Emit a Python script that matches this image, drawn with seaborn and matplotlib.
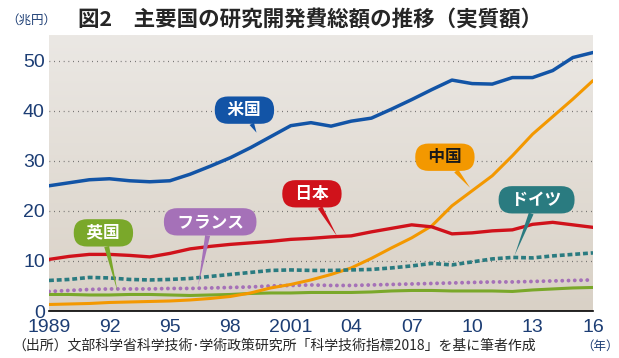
import matplotlib
matplotlib.use("Agg")
import matplotlib.pyplot as plt
import numpy as np
import pandas as pd
import seaborn as sns
from matplotlib.colors import LinearSegmentedColormap

years = list(range(1989, 2017))
usa = [25.0, 25.6, 26.2, 26.4, 26.0, 25.8, 26.0, 27.3, 28.9, 30.6, 32.6, 34.8, 37.0,
       37.6, 36.9, 37.9, 38.5, 40.3, 42.2, 44.2, 46.1, 45.4, 45.3, 46.6, 46.6, 48.0,
       50.6, 51.6]
japan = [10.3, 10.9, 11.3, 11.3, 11.1, 10.8, 11.5, 12.4, 12.9, 13.3, 13.6, 13.9, 14.3,
         14.5, 14.8, 15.0, 15.8, 16.5, 17.2, 16.8, 15.4, 15.6, 16.0, 16.2, 17.3, 17.7,
         17.2, 16.7]
china = [1.3, 1.4, 1.5, 1.7, 1.8, 1.9, 2.0, 2.2, 2.5, 2.9, 3.6, 4.6, 5.3, 6.2, 7.3,
         8.6, 10.5, 12.6, 14.6, 17.0, 21.0, 24.0, 27.0, 31.0, 35.3, 38.8, 42.3, 46.0]
germany = [6.1, 6.3, 6.7, 6.6, 6.3, 6.2, 6.3, 6.5, 6.9, 7.3, 7.7, 8.1, 8.2, 8.1, 8.1,
           8.2, 8.3, 8.6, 9.0, 9.5, 9.2, 9.8, 10.4, 10.7, 10.6, 11.0, 11.3, 11.6]
france = [3.9, 4.1, 4.3, 4.4, 4.4, 4.4, 4.5, 4.5, 4.6, 4.7, 4.8, 5.0, 5.1, 5.2, 5.1,
          5.1, 5.2, 5.3, 5.4, 5.5, 5.6, 5.7, 5.8, 5.8, 5.9, 6.0, 6.1, 6.2]
uk = [3.3, 3.3, 3.2, 3.2, 3.3, 3.3, 3.2, 3.1, 3.2, 3.3, 3.5, 3.6, 3.6, 3.7, 3.7, 3.7,
      3.8, 4.0, 4.1, 4.1, 4.0, 4.0, 4.0, 3.9, 4.2, 4.4, 4.6, 4.7]

tick_years = [1989, 1992, 1995, 1998, 2001, 2004, 2007, 2010, 2013, 2016]
tick_labels = ["1989", "92", "95", "98", "2001", "04", "07", "10", "13", "16"]

df = pd.DataFrame({"year": years, "米国": usa, "日本": japan, "中国": china,
                   "ドイツ": germany, "フランス": france, "英国": uk})

sns.set_theme(style="white")
plt.rcParams["font.family"] = ["Liberation Sans", "Noto Sans CJK JP", "DejaVu Sans"]
cjk = ["Noto Sans CJK JP", "DejaVu Sans"]

navy = "#1c3d74"
fig = plt.figure(figsize=(6.19, 3.58), dpi=100)
ax = fig.add_axes([49 / 619, 1 - 311 / 358, 544 / 619, 276 / 358])

# background gradient
grad = np.linspace(0, 1, 256).reshape(-1, 1)
cmap = LinearSegmentedColormap.from_list("bg", ["#d9d1c6", "#ebe8e4"])
ax.imshow(grad, aspect="auto", cmap=cmap, extent=(1989, 2016, 55.1, 0), zorder=0)

for v in [10, 20, 30, 40, 50]:
    ax.axhline(v, color="#555555", lw=0.9, ls=(0, (0.6, 3.2)), zorder=1)

styles = {
    "英国": dict(color="#7aa82a", lw=2.2),
    "フランス": dict(color="#a571b8", lw=2.8, ls=(0, (0.01, 1.6)), dash_capstyle="round"),
    "中国": dict(color="#f39800", lw=2.2),
    "ドイツ": dict(color="#2a7b80", lw=2.6, ls=(0, (1.35, 0.8)), dash_capstyle="butt"),
    "日本": dict(color="#d0121b", lw=2.4),
    "米国": dict(color="#1254a6", lw=2.5),
}
for name, st in styles.items():
    sns.lineplot(data=df, x="year", y=name, ax=ax, zorder=3, **st)

ax.set_xlim(1989, 2016)
ax.set_ylim(0, 55.1)
ax.set_xlabel("")
ax.set_ylabel("")
ax.set_xticks(tick_years)
ax.set_xticklabels(tick_labels)
ax.set_yticks([0, 10, 20, 30, 40, 50])
ax.tick_params(axis="x", direction="in", length=4, width=0.8, color="#888888",
               labelsize=14, labelcolor=navy, pad=6)
ax.tick_params(axis="y", length=0, labelsize=14, labelcolor=navy, pad=3)
for s in ["top", "right", "left"]:
    ax.spines[s].set_visible(False)
ax.spines["bottom"].set_color("black")
ax.spines["bottom"].set_linewidth(1.2)
ax.spines["bottom"].set_zorder(5)

# bubble labels: text position, pointer tip
bubbles = [
    ("米国", (1998.7, 40.1), (1999.3, 35.6), "#1254a6", "white"),
    ("日本", (2002.05, 23.4), (2003.3, 14.9), "#d0121b", "white"),
    ("中国", (2008.65, 30.7), (2009.9, 24.6), "#f39800", "#1a1a1a"),
    ("ドイツ", (2013.2, 22.2), (2012.1, 11.0), "#2a7b80", "white"),
    ("フランス", (1997.0, 17.8), (1996.4, 5.0), "#a571b8", "white"),
    ("英国", (1991.7, 15.6), (1992.4, 3.9), "#7aa82a", "white"),
]
for text, tpos, tip, fc, tc in bubbles:
    ax.annotate("\u2002" + text + "\u2002", xy=tip, xytext=tpos, ha="center", va="center",
                fontsize=12, fontweight="bold", color=tc, family=cjk, zorder=6,
                bbox=dict(boxstyle="round,pad=0.28,rounding_size=0.8", fc=fc, ec="none"),
                arrowprops=dict(arrowstyle="wedge,tail_width=0.3,shrink_factor=0.5",
                                fc=fc, ec="none", shrinkA=0, shrinkB=0))

fig.text(310 / 619, 1 - 19 / 358, "図2　主要国の研究開発費総額の推移（実質額）",
         ha="center", va="center", fontsize=15.5, fontweight="bold", family=cjk)
fig.text(6 / 619, 1 - 20 / 358, "（兆円）", ha="left", va="center", fontsize=9,
         color=navy, family=cjk)
fig.text(12 / 619, 1 - 346 / 358,
         "（出所）文部科学省科学技術･学術政策研究所「科学技術指標2018」を基に筆者作成",
         ha="left", va="center", fontsize=10, family=cjk)
fig.text(600 / 619, 1 - 346 / 358, "（年）", ha="center", va="center", fontsize=9,
         color=navy, family=cjk)

fig.savefig("out.png", dpi=100)
